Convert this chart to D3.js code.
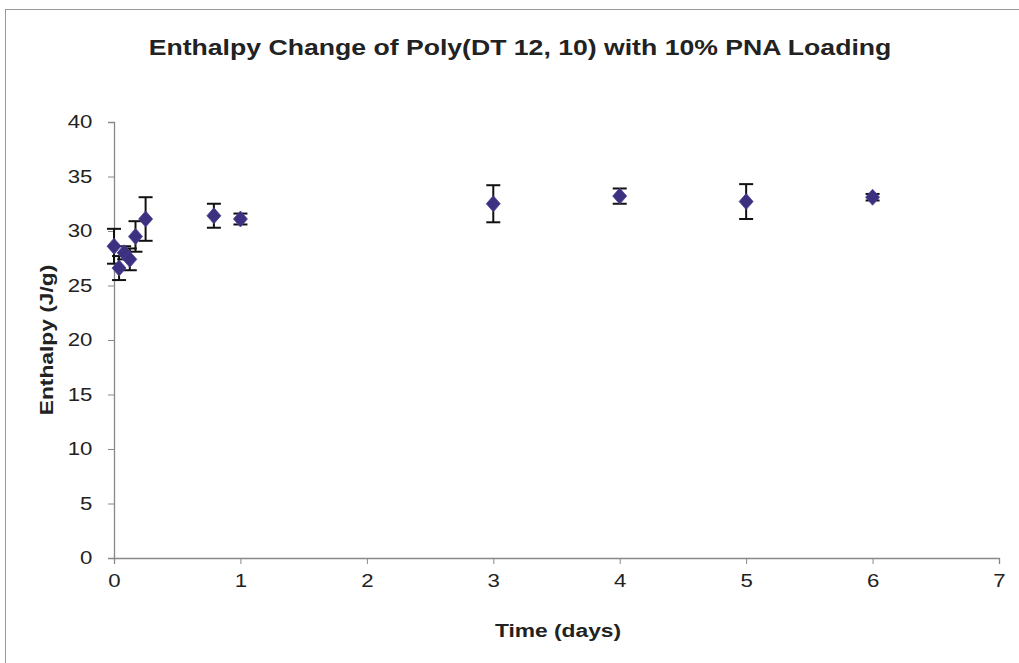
<!DOCTYPE html>
<html>
<head>
<meta charset="utf-8">
<script src="https://cdn.jsdelivr.net/npm/d3@7"></script>
<style>
  body { margin: 0; background: #fff; }
  text { font-family: "Liberation Sans", Arial, sans-serif; }
</style>
</head>
<body>
<div id="chart"></div>
<script>
// data
var days = [0, 0.04, 0.08, 0.125, 0.17, 0.25, 0.79, 1, 3, 4, 5, 6];
var enthalpy = [28.6, 26.6, 28.0, 27.4, 29.5, 31.1, 31.4, 31.1, 32.5, 33.2, 32.7, 33.1];
var errors = [1.6, 1.1, 0.6, 1.0, 1.4, 2.0, 1.1, 0.5, 1.7, 0.7, 1.6, 0.3];
var yTicks = [0, 5, 10, 15, 20, 25, 30, 35, 40];
var xTicks = [0, 1, 2, 3, 4, 5, 6, 7];

var stretch = 1.2; // the scanned chart's type is wider than normal

function init() {
    var w = 1019;
    var h = 663;
    var left = 114, right = 999, top = 122, bottom = 558;

    var svg = d3.select("#chart")
        .append("svg")
        .attr("width", w)
        .attr("height", h);

    // outer frame
    svg.append("rect")
        .attr("x", 5.5).attr("y", 9.5)
        .attr("width", 1030).attr("height", 700)
        .attr("fill", "none")
        .attr("stroke", "#999");

    var xScale = d3.scaleLinear().domain([0, 7]).range([left, right]);
    var yScale = d3.scaleLinear().domain([0, 40]).range([bottom, top]);

    var xAxis = svg.append("g")
        .attr("transform", "translate(0," + bottom + ")")
        .call(d3.axisBottom(xScale).tickValues(xTicks).tickSize(6).tickPadding(10).tickFormat(d3.format("d")));
    var yAxis = svg.append("g")
        .attr("transform", "translate(" + left + ",0)")
        .call(d3.axisLeft(yScale).tickValues(yTicks).tickSize(6).tickPadding(12).tickFormat(d3.format("d")));

    [xAxis, yAxis].forEach(function(a) {
        a.select(".domain").attr("stroke", "#888").attr("stroke-width", 1.3);
        a.selectAll(".tick line").attr("stroke", "#888");
        a.selectAll(".tick text")
            .attr("fill", "#222")
            .attr("transform", "scale(" + stretch + ",1)")
            .style("font-size", "18.5px")
            .style("font-family", "'Liberation Sans', Arial, sans-serif");
    });

    var pts = days.map(function(d, i) {
        return { x: d, y: enthalpy[i], e: errors[i] };
    });

    // error bars
    var eb = svg.append("g").attr("stroke", "#111").attr("stroke-width", 2);
    pts.forEach(function(p) {
        var cx = xScale(p.x);
        eb.append("line")
            .attr("x1", cx).attr("x2", cx)
            .attr("y1", yScale(p.y + p.e)).attr("y2", yScale(p.y - p.e));
        eb.append("line")
            .attr("x1", cx - 7).attr("x2", cx + 7)
            .attr("y1", yScale(p.y + p.e)).attr("y2", yScale(p.y + p.e));
        eb.append("line")
            .attr("x1", cx - 7).attr("x2", cx + 7)
            .attr("y1", yScale(p.y - p.e)).attr("y2", yScale(p.y - p.e));
    });

    // diamond markers
    svg.selectAll("path.pt")
        .data(pts)
        .enter()
        .append("path")
        .attr("class", "pt")
        .attr("d", "M0,-8L7,0L0,8L-7,0Z")
        .attr("transform", function(d) {
            return "translate(" + xScale(d.x) + "," + yScale(d.y) + ")";
        })
        .attr("fill", "#3b3180")
        .attr("stroke", "#4a4090")
        .attr("stroke-width", 0.8);

    svg.append("text")
        .attr("transform", "translate(520,55) scale(1.21,1)")
        .attr("text-anchor", "middle")
        .style("font-size", "22px")
        .style("font-weight", "bold")
        .attr("fill", "#222")
        .text("Enthalpy Change of Poly(DT 12, 10) with 10% PNA Loading");

    svg.append("text")
        .attr("transform", "translate(558,637) scale(" + stretch + ",1)")
        .attr("text-anchor", "middle")
        .style("font-size", "19px")
        .style("font-weight", "bold")
        .attr("fill", "#222")
        .text("Time (days)");

    svg.append("text")
        .attr("transform", "translate(53,340) rotate(-90) scale(" + stretch + ",1)")
        .attr("text-anchor", "middle")
        .style("font-size", "19px")
        .style("font-weight", "bold")
        .attr("fill", "#222")
        .text("Enthalpy (J/g)");
}

window.onload = init;
</script>
</body>
</html>
